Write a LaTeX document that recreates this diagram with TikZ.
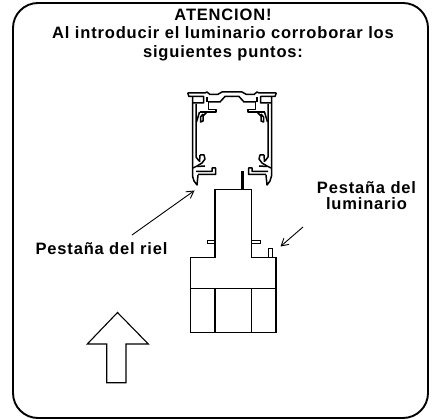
\documentclass[tikz,border=0pt]{standalone}
\usepackage{fontspec}
\setmainfont{Liberation Sans}[LetterSpace=5]
\usetikzlibrary{arrows.meta}
\tikzset{
  lab/.style={font=\bfseries\fontsize{16.5}{18.5}\selectfont,align=center,inner sep=0pt,text=black},
  labtight/.style={lab,font=\bfseries\fontsize{16.5}{16}\selectfont},
  frame/.style={line width=1.9pt,rounded corners=25pt},
  part/.style={line width=1.4pt},
  railline/.style={line width=1.5pt,line join=round},
  pointer/.style={line width=0.9pt,-{Straight Barb[length=7pt,width=8pt,line width=0.9pt]}},
  bigarrow/.style={line width=1.1pt,line join=miter}
}
\newcommand{\railhalf}{
  % top flange and web
  \draw[railline] (187.7,93) -- (205,93) -- (207,92) -- (210,94.5) -- (217.5,94.5) -- (222,92) -- (232,92);
  \draw[railline] (187.7,93) -- (189,96.5) -- (203.5,96.5) -- (203.5,103) -- (192.5,103);
  \draw[railline] (207,97) -- (207,102);
  \draw[railline] (208,102) -- (220,102) -- (225,96.5) -- (232,96.5);
  % walls
  \draw[railline] (192.5,96.5) -- (192.5,176) -- (194,181) -- (197,185) -- (198,175);
  \draw[railline] (196,104) -- (196,157) -- (199,161);
  % upper hook
  \draw[railline] (199.5,112) -- (216,112) -- (216,109.5) -- (208.7,109.5) -- (208.7,102);
  \draw[railline] (207,112) -- (203,116) -- (203,121) -- (200.5,122) -- (200.5,117) -- (203,114);
  \draw[railline] (199.5,112) -- (196.5,122);
  % lower hook and lip
  \draw[railline] (200,155) -- (204,155) -- (205,159) -- (202,163) -- (197,166) -- (193,168);
  \draw[railline] (200,155) -- (199.5,162);
  \draw[railline] (197,166.5) -- (205,166) (196,171.5) -- (212,171.5) -- (212,168) -- (215.5,168) -- (215.5,174.5) -- (198,174.5);
}
\begin{document}
\begin{tikzpicture}[x=1pt,y=-1pt]
\useasboundingbox (0,0) rectangle (433,419);
\fill[white] (0,0) rectangle (433,419);
\draw[frame] (13,3) rectangle (428,418);
\node[lab] (title) at (223,34.5) {ATENCION!\\Al introducir el luminario corroborar los\\siguientes puntos:};
% rail
\railhalf
\begin{scope}[xshift=464pt,xscale=-1]\railhalf\end{scope}
% luminaire
\coordinate (stemtop) at (242.7,171);
\coordinate (stembot) at (242.7,189.5);
\draw[line width=2.8pt] (stemtop) -- (stembot);
\draw[part] (215,257.7) -- (215,189.3) -- (251.7,189.3) -- (251.7,257.7);
\draw[part] (215,257.7) -- (190.3,257.7) -- (190.3,332.7) -- (276,332.7) -- (276,257.7) -- (251.7,257.7);
\draw[part] (190.3,288.7) -- (276,288.7);
\draw[part] (215,288.7) -- (215,332.7) (251.7,288.7) -- (251.7,332.7);
\draw[line width=0.9pt] (207,240.7) rectangle (215,243.5) (251.7,240.7) rectangle (260,243.5);
\draw[line width=1pt] (268.3,257.7) -- (268.3,249) -- (272.7,249) -- (272.7,257.7);
% labels and pointers
\node[lab] (riel) at (101.5,249) {Pestaña del riel};
\node[labtight] (lum) at (366.5,196) {Pestaña del\\luminario};
\coordinate (railtab) at (194.5,190.5);
\coordinate (lumtab) at (280.5,246.5);
\draw[pointer] (132,235) -- (railtab);
\draw[pointer] (303,227) -- (lumtab);
% big arrow
\draw[bigarrow] (117.5,312.5) -- (148.3,344) -- (126,344) -- (126,382.7) -- (106.7,382.7) -- (106.7,344) -- (87.3,344) -- cycle;
\end{tikzpicture}
\end{document}
